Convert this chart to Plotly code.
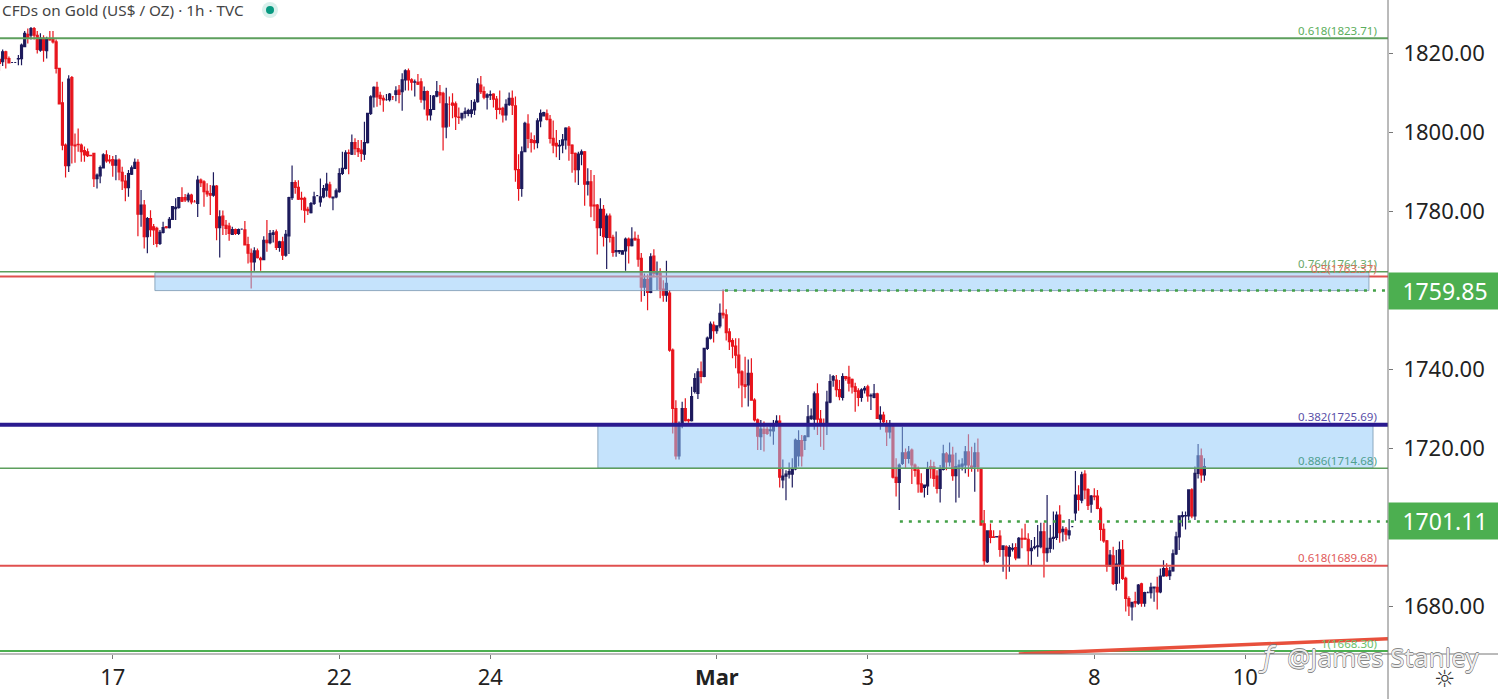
import plotly.graph_objects as go

# hourly bars
opens = [1818.4,1817.8,1820.3,1818.6,1817.6,1817.6,1818.5,1818.6,1821.6,1824.7,
1824.5,1826.2,1824.5,1820.7,1823.7,1820.6,1823.4,1823.4,1822.8,1816.1,
1807.4,1796.7,1791.5,1813.8,1796.7,1796.9,1796.7,1795.3,1795,1794.1,
1794.6,1788.2,1788.9,1790.9,1794.2,1792.9,1793,1791.6,1792.9,1789.8,
1787.6,1785.9,1789.3,1790.8,1792.3,1779.2,1781.5,1773.5,1778.1,1776,
1775.6,1771.8,1774.6,1776,1775.8,1777.9,1780.6,1780.9,1783.4,1783.4,
1782.8,1784,1782.3,1781.9,1787.8,1787.4,1785,1784.4,1784,1786.3,
1775.8,1778.7,1776.4,1776.2,1774.1,1775.3,1774.3,1775.4,1775.2,1771.5,
1769.3,1767.1,1769.9,1768,1767.7,1772.6,1772,1774.1,1774.7,1770.8,
1772.2,1768.8,1773.7,1783.4,1787.2,1786,1783.2,1783.2,1780.4,1779.6,
1781.9,1783.9,1782.3,1783.6,1785.3,1786.6,1783.3,1783.6,1784.9,1789.5,
1790.8,1794.7,1794.4,1797.3,1795.8,1795.4,1794.4,1797.3,1804.7,1808.9,
1811.3,1809.3,1808.5,1808.2,1808.2,1808.9,1809.5,1810.6,1810.2,1813.2,
1815.5,1813.2,1812.6,1812.6,1812.7,1808.1,1810.2,1804.3,1805.7,1809.1,
1810,1809.8,1801.3,1807,1807.3,1807.1,1803.8,1803.6,1804.7,1804.7,
1804.7,1805.6,1807.7,1811.9,1810.2,1808.8,1809.3,1809.6,1808.3,1806,
1806,1804.3,1807,1808.5,1806.6,1790.5,1785.7,1795,1802,1798.1,
1797.8,1797.3,1802.8,1804.1,1804.6,1803.2,1798.4,1797.1,1796.5,1796.7,
1798,1801,1796.7,1794.6,1790.5,1794.4,1795,1786.8,1787.4,1781.5,
1781.5,1775.8,1780.4,1773.3,1778.7,1773.3,1769.7,1769.7,1769.1,1769.9,
1772.9,1771.2,1773.1,1772.8,1768,1760.7,1762.7,1759.4,1768.6,1764,
1764.2,1760.2,1758.7,1759.2,1744.8,1730,1718,1726.2,1730,1727.1,
1726.9,1734.3,1733.8,1739.3,1738.1,1745.2,1747.8,1751.1,1749.7,1750.9,
1754.1,1753.7,1749.4,1747.2,1745.8,1743.5,1739.3,1736,1736,1738.9,
1732.1,1727.1,1722.9,1724.7,1724.7,1724.4,1724.3,1725.8,1726.8,1711.9,
1712.9,1713.4,1713.4,1714.7,1718,1721.9,1721.9,1722.9,1727.5,1727.3,
1733.7,1727.3,1726.2,1726.2,1731.6,1737.2,1737.2,1734.8,1732.8,1738.1,
1737.9,1737.4,1735.5,1734.5,1732.8,1734.7,1735.5,1733.2,1732.8,1733.7,
1727.3,1728.3,1725.4,1724.1,1725.4,1712.6,1711.3,1716.1,1718.8,1717.4,
1719.5,1715.7,1714.4,1710.9,1710,1710.4,1715.3,1715.3,1712.9,1709.8,
1714.6,1718.5,1716.5,1718.2,1713,1715.3,1715.4,1715.7,1719,1715.4,
1715.3,1718.8,1714.6,1700.8,1691.2,1699,1697.5,1697.5,1697.7,1694.3,
1695,1692.6,1694.4,1694.8,1692.2,1697.1,1697.1,1696.9,1694,1694.8,
1695,1695,1698.8,1693.5,1694.6,1697.1,1697.4,1703,1698.8,1699.4,
1698,1700.1,1703.6,1708.1,1706.8,1713.4,1709.5,1705.8,1707.8,1707.8,
1704.6,1699.4,1696.5,1690.4,1692.7,1685.7,1690.6,1694.2,1687,1681.9,
1679.8,1681.1,1680.7,1685.6,1680.7,1683.4,1683.4,1684.6,1684.7,1683.6,
1687.6,1689.5,1687.7,1688.9,1693.2,1697.5,1702.6,1702.8,1702.8,1709.4,
1702.8,1713.6,1718,1713.2]

highs = [1819.1,1820.9,1820.6,1819.1,1817.7,1817.7,1819.5,1822.4,1825.6,1826.2,
1826.6,1826.6,1825.6,1825,1824.5,1824.1,1825.6,1825.6,1823.4,1816.1,
1812.7,1797.1,1814.4,1814.2,1799.6,1800.9,1797.1,1796.3,1795.8,1794.2,
1794.7,1789.5,1791.5,1794.6,1795.4,1794.2,1793.9,1794.2,1793.3,1791.2,
1789.1,1790.4,1791.5,1793.3,1793.1,1785.3,1782.8,1778.5,1780.2,1776.7,
1776,1775.2,1777.3,1776.2,1778.5,1781.2,1783.2,1783.4,1786,1784.3,
1784.6,1784.4,1782.8,1788.9,1788.2,1787.8,1787,1786.6,1789.8,1786.6,
1780.2,1780.1,1777.7,1777,1776,1775.6,1775.6,1775.5,1777.5,1773.5,
1770.5,1770.8,1770.5,1768.4,1773.6,1777.7,1775.2,1775.2,1775.3,1772.5,
1773.5,1775.2,1783.6,1791.5,1787.8,1787.8,1784.9,1783.6,1781.1,1782.3,
1784.9,1783.9,1788.2,1786.6,1789.7,1787.4,1783.6,1785.7,1790.8,1795,
1795.4,1795.6,1799.4,1798.4,1798,1798,1802.6,1804.7,1809.3,1811.6,
1812.7,1810.2,1809.3,1809.6,1809.9,1809.1,1811.6,1811.9,1814.9,1815.9,
1816.1,1813.6,1813.3,1814.7,1813.6,1811.5,1810.5,1809.4,1809.4,1812.9,
1811.9,1810.2,1811.2,1809,1809.8,1807.7,1806.2,1804.9,1806.2,1805.9,
1808.1,1808.3,1813.6,1814.2,1811.5,1809.8,1810.5,1809.8,1809.1,1810.5,
1806.4,1808.3,1810,1810.5,1809,1794.4,1796.3,1802.6,1804.5,1799.9,
1799.2,1803.5,1805.7,1805.1,1805.7,1804.3,1802.9,1800.5,1798,1799.5,
1801.2,1801.5,1796.9,1794.8,1795,1795.6,1795.2,1790.8,1790.4,1789.1,
1781.8,1783.2,1781.5,1779.4,1779.4,1774,1774.8,1770.1,1770.1,1773.3,
1773.3,1775.9,1774.8,1774,1769.4,1764.2,1764,1769.3,1770.3,1767.2,
1765.5,1762.5,1767.4,1760,1745.2,1732.1,1726.7,1731.7,1732.6,1727.4,
1735.5,1738.9,1740.2,1741.9,1745.2,1748.2,1752,1752,1751.1,1756.6,
1760.2,1755.1,1750.3,1747.8,1747.8,1747.8,1739.7,1743.1,1742.4,1742.7,
1732.6,1727.5,1727.1,1726.7,1725.4,1725.8,1727.1,1728.3,1728.3,1717.1,
1714.4,1716.3,1717.4,1722.4,1724.5,1723.3,1723.3,1730.9,1730,1734.3,
1736.4,1729.6,1727.5,1734.5,1738.7,1738.5,1738.5,1737.2,1738.9,1738.2,
1740.8,1737.6,1736.5,1735.1,1735.1,1735.7,1736,1733.8,1736.2,1734,
1730.6,1729.2,1727.1,1727.1,1726.2,1717.4,1716.1,1725.4,1719.9,1720.5,
1719.9,1716.1,1715.3,1713.6,1710.6,1716.5,1717,1716.5,1714.4,1715.7,
1720.8,1719,1721.4,1720.3,1718.8,1717,1717.4,1720.5,1723.5,1720.3,
1721.3,1722.4,1714.8,1704.3,1699.2,1700.9,1699.2,1697.7,1699.2,1695.4,
1695.4,1695.4,1695.9,1695.9,1697.5,1699.6,1700.8,1698.4,1696.7,1697.5,
1700.5,1701.1,1701.1,1708.1,1700.5,1703.9,1703.9,1705.5,1700.2,1700,
1702,1700.2,1714.2,1710.6,1714,1714.4,1709.8,1708.1,1709.8,1709.4,
1705.1,1700.9,1696.7,1694.2,1695,1694.2,1696.3,1696.7,1687.4,1682.5,
1681.1,1683.6,1685.6,1685.9,1683.6,1683.7,1685.9,1684.9,1687.4,1689.5,
1691.6,1690.8,1689.9,1694.3,1698.8,1703,1703.9,1703.9,1709.4,1709.8,
1715.3,1721,1719.9,1717.4]

lows = [1815.5,1816.7,1816.1,1817.4,1817.5,1817.5,1816.9,1816.9,1821.6,1822.4,
1823.4,1823.4,1819.9,1820.3,1817.8,1818.6,1823.1,1822.4,1814.8,1807.1,
1795.4,1788.5,1789.9,1792,1792.2,1795,1792.5,1792.5,1793.7,1793.9,
1786.1,1785.7,1787,1790.8,1792.2,1792,1788.7,1787.8,1787.8,1785.3,
1782.5,1783.6,1789.1,1790.8,1773.6,1776,1770.5,1769.3,1773.5,1771.4,
1770.8,1771.4,1774.3,1775.6,1775.6,1777.9,1777.7,1780.6,1782.3,1782.3,
1782.2,1781.7,1782.2,1778.5,1786.1,1781.1,1783.6,1779,1783.6,1772.6,
1768.2,1773.9,1773.9,1772.5,1773.9,1773.9,1773.9,1775.3,1771.4,1766.7,
1760.4,1764.9,1768,1764.9,1767.6,1769.7,1771.6,1772,1770.1,1769.7,
1767.6,1768.4,1769.1,1782.8,1784.4,1782.8,1780.2,1777,1779,1779.4,
1781.5,1783.8,1781.1,1783.2,1783.6,1783.2,1780.2,1783.2,1784.6,1789.1,
1790.5,1789.3,1794.2,1794.2,1793.7,1792.5,1792.9,1797.1,1804.3,1806.2,
1806.4,1806.8,1805.1,1807.9,1807.7,1808.1,1807.8,1807.3,1805.4,1810.5,
1810.5,1810.5,1809,1811.9,1807.4,1805.7,1802.9,1802.9,1805.6,1808.8,
1807.3,1795.3,1798.4,1801.3,1803.5,1800.5,1802,1802.9,1803.5,1804,
1803.7,1804.3,1807.4,1809.6,1808.3,1805.7,1808.1,1806.2,1803.2,1804.5,
1802.4,1802.9,1806.6,1804.3,1787.4,1782.6,1783.6,1795,1795.9,1794.8,
1795.6,1795.9,1801.2,1803.9,1802.9,1797.1,1794.6,1793.6,1792.9,1794.6,
1795.6,1792.7,1789.7,1787.2,1786.6,1791.6,1781.3,1783.9,1778.4,1777.5,
1769,1773.7,1771,1765.3,1772,1768.4,1768.4,1769.1,1768.9,1764.9,
1766.7,1771,1772.5,1765.9,1757,1758.5,1754.9,1759.2,1763.2,1760,
1757.9,1757,1757,1744.4,1723.7,1717.1,1717.1,1725,1726.7,1726.4,
1726.7,1733.8,1732.4,1736.4,1737.9,1744.8,1747.5,1746.7,1748.9,1750.3,
1752.8,1747.2,1744.8,1742.7,1740.2,1735.1,1730.3,1732.6,1730.5,1732,
1726.7,1719.5,1719.5,1719.1,1723.3,1722.9,1720.8,1725.4,1710,1709.8,
1706.8,1712.3,1710,1714.4,1715.3,1715.3,1719.5,1722.9,1727.1,1724.6,
1723.3,1720.3,1719.5,1723.3,1731.3,1735.5,1733,1732.1,1732,1737,
1734.3,1733.8,1729.2,1730.6,1731.7,1733.8,1731.7,1729.6,1732.6,1727.5,
1724.6,1725.8,1720.5,1722.4,1712.3,1707.7,1704.3,1715.7,1714.8,1716.1,
1710.9,1712.7,1708.7,1708.7,1707.5,1708.1,1712.3,1710.2,1708.5,1706.2,
1714.3,1714.4,1715.3,1711.7,1706.2,1707.4,1714.3,1713.6,1712.7,1714,
1708.9,1714,1700.5,1690.4,1690.9,1695.9,1697.3,1697.4,1692.5,1688.7,
1686.8,1688.7,1693.8,1691.6,1692.1,1694.6,1696.9,1690.1,1690.1,1694.3,
1692.5,1694.6,1687.2,1691.2,1693.5,1694.3,1696.7,1696,1696.3,1696.5,
1696.9,1700,1701.6,1704.1,1706,1707,1704.3,1703.6,1706.8,1704.5,
1696.5,1696,1688.7,1689.9,1685.3,1683.9,1685.7,1686.6,1678.6,1677.5,
1676.3,1679.7,1680.3,1679.8,1679.8,1683.2,1681.9,1681.1,1679.1,1683.2,
1687.4,1687.4,1686.6,1688.7,1692.9,1694.2,1700.1,1699.4,1701.8,1702.2,
1701.8,1712.3,1711.2,1711.7]

closes = [1817.4,1820.3,1818.6,1817.5,1817.6,1817.6,1818.6,1822,1825,1823.7,
1826.2,1824.5,1820.9,1823.7,1820.7,1823.4,1823.3,1822.8,1816.1,1807.1,
1796.7,1791.5,1813.4,1796.7,1796.5,1796.8,1795,1794.2,1794,1794,
1788.2,1789.1,1791,1794.2,1792.7,1792.7,1791.6,1792.9,1789.9,1787.6,
1785.9,1789.5,1790.9,1792.3,1779.2,1781.5,1773.5,1778.1,1775.3,1775.2,
1771.8,1774.6,1775.8,1775.8,1777.9,1781.1,1780.9,1783.4,1782.5,1782.8,
1784,1782.3,1782.3,1787.8,1787.2,1784.9,1784.3,1784,1786.3,1775.8,
1778.5,1776.4,1775.6,1774.3,1775.3,1774.3,1775.3,1775.4,1771.4,1769.3,
1767.1,1769.9,1768.2,1767.7,1772.6,1772,1774.3,1774.5,1770.8,1772.2,
1768.8,1774.1,1783.4,1787.2,1786,1783,1783,1780.2,1780.1,1781.9,
1783.6,1783.9,1783.6,1785.7,1786.8,1783.6,1783.5,1785.1,1789.5,1790.8,
1794.7,1794.6,1797.3,1795.8,1795,1794.6,1797.3,1804.7,1808.9,1811.3,
1808.9,1808.5,1808.1,1808.2,1809.6,1808.9,1810.4,1809.5,1813.2,1815.5,
1813.2,1812.6,1812.7,1812.1,1808.3,1810.2,1804.3,1805.7,1809.1,1810.2,
1809.4,1801.3,1807.1,1807,1806.8,1803.9,1803.7,1804.7,1805.1,1805.4,
1805.6,1807.5,1812.2,1810.2,1808.8,1809.4,1809.5,1808.3,1805.7,1805.7,
1804.3,1807,1808.5,1806.8,1790.5,1785.7,1795,1802.2,1798.4,1797.4,
1797.3,1802.8,1804.7,1804.9,1803.2,1798.4,1796.7,1796.5,1796.6,1798,
1801,1796.7,1794.6,1790.5,1794.4,1795,1786.8,1787.4,1781.3,1781.3,
1775.8,1780.4,1773.5,1778.7,1773.3,1769.5,1770,1770,1769.9,1772.9,
1771.2,1772.9,1772.7,1767.8,1760.7,1762.7,1759.4,1768.4,1764.2,1764.4,
1760.2,1758.7,1761.7,1744.8,1730,1718,1726.2,1730,1726.9,1726.9,
1733,1737.6,1739.3,1738.1,1745.2,1747.8,1751.4,1749.7,1750.9,1754.1,
1753.7,1749.2,1746.9,1745.8,1743.5,1739,1736,1735.6,1738.9,1732.1,
1727.1,1723,1724.8,1723.7,1723.7,1724.6,1725.8,1726.8,1712.6,1712.9,
1713.4,1714,1714.7,1722,1721.9,1718,1723,1727.9,1728.1,1733.7,
1727.3,1726.1,1726,1731.6,1736.8,1738.1,1734.8,1733,1738.1,1737.6,
1736.4,1735.5,1734.3,1732.8,1734.7,1735.1,1733.2,1733.3,1733.7,1727.5,
1728.3,1726.7,1724.1,1725.4,1712.6,1711.3,1715.7,1718.8,1717.4,1719,
1715.7,1714.3,1710.9,1708.9,1710.6,1714.6,1714.8,1712.3,1709.8,1714.6,
1718.5,1716.5,1718.2,1713,1715.3,1715.7,1715.9,1719,1715.7,1715.1,
1718.8,1715.3,1700.5,1691.5,1699,1697.4,1697.4,1697.6,1694.3,1695.2,
1692.7,1694.8,1694.6,1692.2,1697.1,1696.9,1696.9,1694,1694.6,1695,
1695.2,1698.8,1693.5,1694.6,1697.1,1697.4,1703,1698.6,1699.4,1698.2,
1699,1700.1,1708.1,1707,1713.2,1709.4,1705.5,1707.8,1707.7,1704.7,
1699.4,1696.5,1690.1,1692.9,1685.7,1690.6,1694.2,1687,1681.9,1680,
1680.9,1680.8,1685.3,1680.7,1683.4,1683.4,1684.7,1684.8,1683.6,1687.6,
1689.5,1687.7,1688.9,1693.2,1697.5,1702.8,1702.9,1702.9,1709.4,1702.8,
1713.6,1718,1713.2,1715.3]

bars = list(range(len(closes)))

day_bars = [36, 108, 156, 228, 276, 348, 396]
day_labels = ['17', '22', '24', '<b>Mar</b>', '3', '8', '10']
price_ticks = [1820, 1800, 1780, 1740, 1720, 1680]
tag_labels = ['1759.85', '1701.11']
tag_levels = [1759.85, 1701.4]

# fib levels, where the lines sit on the picture
fib_green_top = 1823.71
fib_green_mid = 1764.6
fib_red_mid = 1763.4
fib_navy = 1725.9
fib_green_low = 1714.9
fib_red_low = 1690.2
fib_green_bottom = 1668.6

GREEN = '#5d9f5d'
RED = '#e0504f'
NAVY = '#2a1a8f'
TAG = '#4caf50'
W, H = 1388, 654


def px(x):
    return x / W


def py(y):
    return 1 - y / H


def hline(price, colour, width):
    return dict(type='line', xref='paper', x0=0, x1=1, yref='y', y0=price, y1=price,
                line=dict(color=colour, width=width))


def band(x0, x1, top, bottom):
    return dict(type='rect', xref='x', x0=x0, x1=x1, yref='y', y0=bottom, y1=top,
                fillcolor='rgba(144,202,249,0.52)', line=dict(color='rgba(120,150,175,0.8)', width=1))


def dotted(x0, price):
    return dict(type='line', xref='x', x0=x0, x1=441.36, yref='y', y0=price, y1=price,
                line=dict(color='#43a047', width=2.5, dash='3px,6px'))


def fib_text(price, label, colour):
    return dict(xref='paper', x=px(1379), xanchor='right', yref='y', y=price, yanchor='bottom', yshift=-1.5,
                text=label, showarrow=False, font=dict(family='Noto Sans', size=11.5, color=colour))


def tag(price, label):
    return dict(xref='paper', x=1, xanchor='left', yref='y', y=price, yanchor='middle',
                text=label, showarrow=False, width=110, height=34, bgcolor=TAG,
                font=dict(family='Noto Sans', size=23, color='white'), align='center')


fig = go.Figure(go.Candlestick(
    x=bars, open=opens, high=highs, low=lows, close=closes,
    increasing=dict(line=dict(color='#1d1a5c', width=1.2), fillcolor='#1d1a5c'),
    decreasing=dict(line=dict(color='#e8141c', width=1.2), fillcolor='#e8141c'),
    whiskerwidth=0, showlegend=False))

shapes = [
    hline(fib_green_top, GREEN, 2),
    hline(fib_red_mid, RED, 2),
    band(49.4, 435.3, fib_green_mid - 0.2, tag_levels[0]),
    hline(fib_green_mid, GREEN, 1.5),
    band(190.2, 436.6, fib_navy, fib_green_low),
    hline(fib_navy, NAVY, 4),
    hline(fib_green_low, GREEN, 1.5),
    hline(fib_red_low, RED, 2),
    hline(fib_green_bottom, '#4caf50', 2),
    dict(type='line', xref='x', x0=324, x1=441.36, yref='y', y0=1667.85, y1=1671.7,
         line=dict(color='#e8503c', width=3.5)),
    dotted(230.6, tag_levels[0]),
    dotted(286.2, tag_levels[1]),
    # axis lines
    dict(type='line', xref='paper', x0=0, x1=1498 / W, yref='paper', y0=0, y1=0,
         line=dict(color='#777777', width=1)),
    dict(type='line', xref='paper', x0=1, x1=1, yref='paper', y0=py(699), y1=1,
         line=dict(color='#777777', width=1)),
    # status dot
    dict(type='circle', xref='paper', yref='paper', x0=px(262), x1=px(278), y0=py(18), y1=py(2),
         fillcolor='#d9f0ec', line=dict(width=0)),
    dict(type='circle', xref='paper', yref='paper', x0=px(266), x1=px(274), y0=py(14), y1=py(6),
         fillcolor='#089981', line=dict(width=0)),
]

annotations = [
    dict(xref='paper', x=px(0), xanchor='left', yref='paper', y=py(10), yanchor='middle',
         text='CFDs on Gold (US$ / OZ) · 1h · TVC', showarrow=False,
         font=dict(family='Noto Sans', size=15.3, color='#444444')),
    fib_text(fib_green_top, '0.618(1823.71)', '#5cae5c'),
    fib_text(fib_green_mid, '0.764(1764.31)', '#6aa86a'),
    fib_text(fib_red_mid, '0.5(1763.37)', '#d9705a'),
    fib_text(fib_navy, '0.382(1725.69)', '#5a4fa8'),
    fib_text(fib_green_low, '0.886(1714.68)', '#4f9f8f'),
    fib_text(fib_red_low, '0.618(1689.68)', '#e05a5a'),
    fib_text(fib_green_bottom, '1(1668.30)', '#6bbf6b'),
    tag(tag_levels[0], tag_labels[0]),
    tag(tag_levels[1], tag_labels[1]),
    dict(xref='paper', x=px(1285), xanchor='left', yref='paper', y=py(657), yanchor='middle',
         text='@James Stanley', showarrow=False,
         font=dict(family='Noto Sans', size=26, color='rgba(255,255,255,0.9)',
                   shadow='0.6px 0 #777, -0.6px 0 #777, 0 0.6px #777, 0 -0.6px #777')),
    dict(xref='paper', x=px(1267), xanchor='center', yref='paper', y=py(657), yanchor='middle',
         text='<i>ƒ</i>', showarrow=False,
         font=dict(family='DejaVu Sans', size=28, color='rgba(255,255,255,0.9)',
                   shadow='0.6px 0 #777, -0.6px 0 #777, 0 0.6px #777, 0 -0.6px #777')),
    dict(xref='paper', x=px(1445), xanchor='center', yref='paper', y=py(679), yanchor='middle',
         text='☼', showarrow=False, font=dict(family='DejaVu Sans', size=24, color='#333333')),
]

fig.update_layout(
    width=1498, height=699,
    margin=dict(l=0, r=110, t=0, b=45, autoexpand=False),
    plot_bgcolor='white', paper_bgcolor='white',
    showlegend=False, boxgap=0.1,
    shapes=shapes, annotations=annotations,
    xaxis=dict(range=[0.159, 441.36], rangeslider=dict(visible=False), showgrid=False, zeroline=False,
               tickmode='array', tickvals=day_bars, ticktext=day_labels,
               ticks='outside', ticklen=4, tickcolor='#777777',
               tickfont=dict(family='Noto Sans', size=22, color='#222222')),
    yaxis=dict(range=[1667.85, 1833.42], side='right', showgrid=False, zeroline=False,
               tickmode='array', tickvals=price_ticks + tag_levels,
               ticktext=['%.2f' % p for p in price_ticks] + ['', ''],
               ticks='outside', ticklen=4, tickcolor='#777777', ticklabelstandoff=6,
               tickfont=dict(family='Noto Sans', size=22, color='#222222')),
)

# the page keeps an 8px body margin otherwise
fig.write_html("out.html", config=dict(displayModeBar=False),
               post_script="document.body.style.margin='0';document.body.style.overflow='hidden';")
